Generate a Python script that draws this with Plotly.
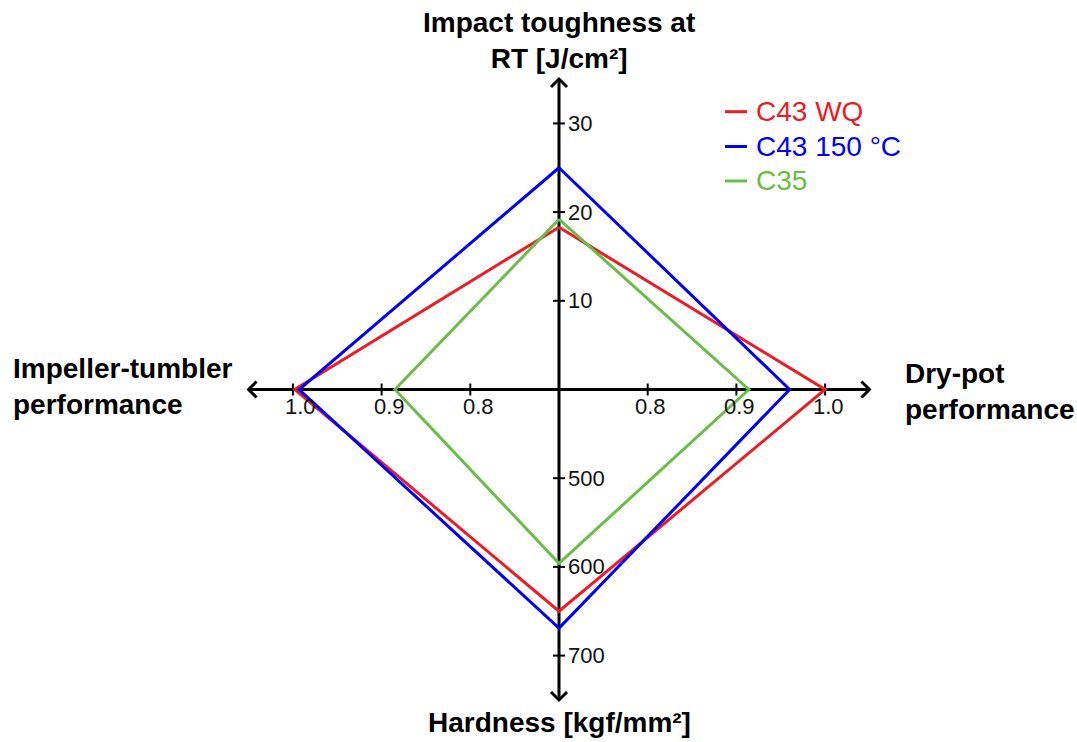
import plotly.graph_objects as go

# ---------------- data ----------------
series = ["C43 WQ", "C43 150 °C", "C35"]
colors = ["#ED1C24", "#0000FF", "#6ABD45"]
impact_toughness = [18.3, 25.0, 19.2]      # J/cm² (top axis)
dry_pot = [1.0, 0.96, 0.914]               # right axis
hardness = [650, 669, 596]                 # kgf/mm² (bottom axis)
impeller_tumbler = [0.998, 0.993, 0.885]   # left axis

top_ticks = [10, 20, 30]
bottom_ticks = [500, 600, 700]
right_ticks = [0.8, 0.9, 1.0]
left_ticks = [0.8, 0.9, 1.0]

# ---------------- axis scalings (each spoke has its own origin) ----------------
def f_top(v):
    return v / 100.0

def f_bottom(v):
    return -(v - 400) / 1000.0

def f_right(v):
    return v - 0.7

def f_left(v):
    return -(v - 0.7)

S = 887.0            # pixels per data unit
CX, CY = 559.0, 389.5
W, H = 1077, 742


def px(n):
    return n / S


def py(p):
    return 1 - p / H


fig = go.Figure()

# axes (drawn first, under the series)
AX = 0.35
shapes = []
line_style = dict(color="black", width=3)
shapes.append(dict(type="line", x0=-AX, x1=AX, y0=0, y1=0, xref="x", yref="y", line=line_style, layer="below"))
shapes.append(dict(type="line", x0=0, x1=0, y0=-AX, y1=AX, xref="x", yref="y", line=line_style, layer="below"))
a = px(8)
arrow_paths = [
    f"M {-a},{AX - a} L 0,{AX} L {a},{AX - a}",
    f"M {-a},{-AX + a} L 0,{-AX} L {a},{-AX + a}",
    f"M {AX - a},{a} L {AX},0 L {AX - a},{-a}",
    f"M {-AX + a},{a} L {-AX},0 L {-AX + a},{-a}",
]
for p in arrow_paths:
    shapes.append(dict(type="path", path=p, xref="x", yref="y", line=line_style, layer="below"))

t = px(6)
annotations = []
tick_font = dict(family="Liberation Sans, Arial, sans-serif", size=22, color="#111111")
for v in top_ticks:
    y = f_top(v)
    shapes.append(dict(type="line", x0=-t, x1=t, y0=y, y1=y, xref="x", yref="y", line=dict(color="black", width=2), layer="below"))
    annotations.append(dict(x=px(7), y=y, xref="x", yref="y", text=str(v), showarrow=False,
                            xanchor="left", yanchor="middle", font=tick_font))
for v in bottom_ticks:
    y = f_bottom(v)
    shapes.append(dict(type="line", x0=-t, x1=t, y0=y, y1=y, xref="x", yref="y", line=dict(color="black", width=2), layer="below"))
    annotations.append(dict(x=px(7), y=y, xref="x", yref="y", text=str(v), showarrow=False,
                            xanchor="left", yanchor="middle", font=tick_font))
for v in right_ticks:
    x = f_right(v)
    shapes.append(dict(type="line", x0=x, x1=x, y0=-t, y1=t, xref="x", yref="y", line=dict(color="black", width=2), layer="below"))
    annotations.append(dict(x=x, y=-px(17), xref="x", yref="y", text=f"{v:.1f}", showarrow=False,
                            xanchor="center", yanchor="middle", xshift=3, font=tick_font))
for v in left_ticks:
    x = f_left(v)
    shapes.append(dict(type="line", x0=x, x1=x, y0=-t, y1=t, xref="x", yref="y", line=dict(color="black", width=2), layer="below"))
    annotations.append(dict(x=x, y=-px(17), xref="x", yref="y", text=f"{v:.1f}", showarrow=False,
                            xanchor="center", yanchor="middle", xshift=8, font=tick_font))

# series polygons
for i, name in enumerate(series):
    xs = [0, f_right(dry_pot[i]), 0, f_left(impeller_tumbler[i]), 0]
    ys = [f_top(impact_toughness[i]), 0, f_bottom(hardness[i]), 0, f_top(impact_toughness[i])]
    fig.add_trace(go.Scatter(
        x=xs, y=ys, mode="lines",
        line=dict(color=colors[i], width=3),
        name=name, showlegend=False,
        hoverinfo="skip",
    ))

# legend (short line samples + coloured labels)
legend_font_size = 28
legend_rows = [111.7, 146.5, 181.0]
for i, name in enumerate(series):
    yy = py(legend_rows[i])
    shapes.append(dict(type="line", x0=725 / W, x1=747 / W, y0=yy, y1=yy, xref="paper", yref="paper",
                       line=dict(color=colors[i], width=3)))
    annotations.append(dict(x=754 / W, y=yy, xref="paper", yref="paper", showarrow=False,
                            text=name, xanchor="left", yanchor="middle",
                            font=dict(family="Liberation Sans, Arial, sans-serif", size=legend_font_size,
                                      color=colors[i])))

# spoke titles (paper coords, margins are zero so paper == pixels)
title_font = dict(family="Liberation Sans, Arial, sans-serif", size=28, color="black")

annotations += [
    dict(x=CX / W, y=py(40), xref="paper", yref="paper", showarrow=False,
         text="<b>Impact toughness at<br>RT [J/cm²]</b>", xanchor="center", yanchor="middle",
         align="center", font=title_font),
    dict(x=903 / W, y=py(391), xref="paper", yref="paper", showarrow=False,
         text="<b>Dry-pot<br>performance</b>", xanchor="left", yanchor="middle",
         align="left", font=title_font),
    dict(x=11 / W, y=py(386), xref="paper", yref="paper", showarrow=False,
         text="<b>Impeller-tumbler<br>performance</b>", xanchor="left", yanchor="middle",
         align="left", font=title_font),
    dict(x=CX / W, y=py(722), xref="paper", yref="paper", showarrow=False,
         text="<b>Hardness [kgf/mm²]</b>", xanchor="center", yanchor="middle",
         align="center", font=title_font),
]

fig.update_layout(
    width=W, height=H,
    margin=dict(l=0, r=0, t=0, b=0),
    paper_bgcolor="white", plot_bgcolor="white",
    xaxis=dict(range=[-CX / S, (W - CX) / S], visible=False, fixedrange=True),
    yaxis=dict(range=[-(H - CY) / S, CY / S], visible=False, fixedrange=True),
    shapes=shapes,
    annotations=annotations,
    showlegend=False,
)

fig.write_html("out.html", config={"displayModeBar": False},
               post_script="document.body.style.margin='0';")
